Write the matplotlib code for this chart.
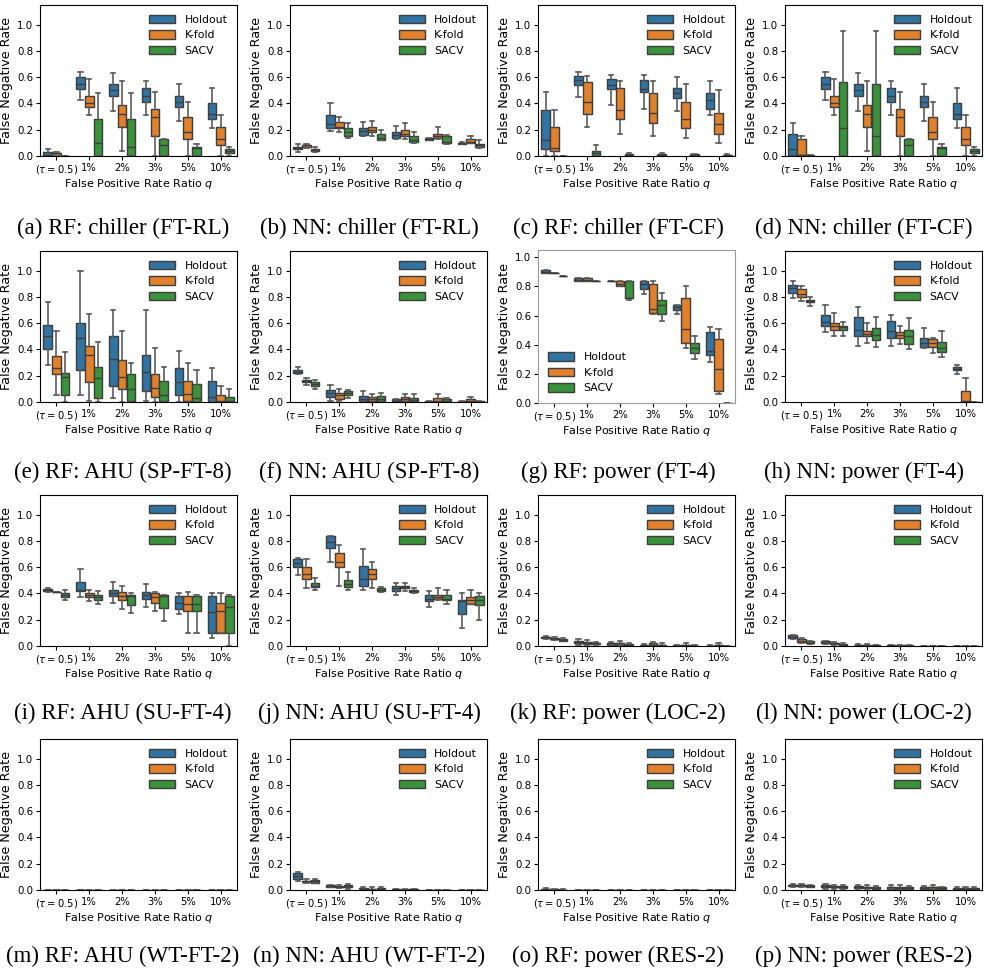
import matplotlib
matplotlib.use("Agg")
import matplotlib.pyplot as plt
from matplotlib.patches import Patch

CATEGORIES = [r"$(\tau = 0.5)$", "1%", "2%", "3%", "5%", "10%"]
METHODS = ["Holdout", "K-fold", "SACV"]
COLORS = ["#3274a1", "#e1812c", "#3a923a"]
Y_TICKS = [0.0, 0.2, 0.4, 0.6, 0.8, 1.0]

# Box statistics per category: (lower whisker, Q1, median, Q3, upper whisker)
# (a) RF: chiller (FT-RL)
A_HOLDOUT = [(0, 0, 0.01, 0.03, 0.05), (0.43, 0.51, 0.55, 0.60, 0.64), (0.34, 0.46, 0.50, 0.55, 0.63),
             (0.31, 0.41, 0.46, 0.52, 0.57), (0.27, 0.37, 0.41, 0.46, 0.55), (0.21, 0.28, 0.32, 0.40, 0.52)]
A_KFOLD = [(0, 0, 0.02, 0.025, 0.03), (0.31, 0.37, 0.40, 0.46, 0.59), (0.04, 0.22, 0.32, 0.39, 0.57),
           (0, 0.15, 0.30, 0.36, 0.49), (0, 0.13, 0.18, 0.30, 0.41), (0, 0.08, 0.13, 0.22, 0.31)]
A_SACV = [(0, 0, 0, 0, 0), (0, 0, 0.10, 0.28, 0.48), (0, 0, 0.07, 0.28, 0.48),
          (0, 0, 0.08, 0.13, 0.13), (0, 0, 0.06, 0.07, 0.09), (0, 0.02, 0.04, 0.055, 0.07)]

# (b) NN: chiller (FT-RL)
B_HOLDOUT = [(0.03, 0.05, 0.06, 0.07, 0.09), (0.19, 0.21, 0.24, 0.31, 0.40), (0.15, 0.16, 0.19, 0.21, 0.26),
             (0.13, 0.14, 0.16, 0.18, 0.23), (0.12, 0.12, 0.13, 0.14, 0.14), (0.09, 0.095, 0.10, 0.10, 0.105)]
B_KFOLD = [(0.06, 0.07, 0.08, 0.085, 0.095), (0.18, 0.21, 0.22, 0.26, 0.30), (0.15, 0.18, 0.20, 0.22, 0.27),
           (0.13, 0.15, 0.17, 0.20, 0.25), (0.13, 0.14, 0.15, 0.17, 0.22), (0.10, 0.10, 0.11, 0.13, 0.15)]
B_SACV = [(0.03, 0.04, 0.045, 0.055, 0.065), (0.14, 0.15, 0.18, 0.21, 0.25), (0.12, 0.12, 0.14, 0.17, 0.20),
          (0.10, 0.11, 0.12, 0.15, 0.18), (0.09, 0.10, 0.11, 0.15, 0.16), (0.06, 0.07, 0.08, 0.09, 0.12)]

# (c) RF: chiller (FT-CF)
C_HOLDOUT = [(0, 0.05, 0.12, 0.35, 0.49), (0.45, 0.54, 0.58, 0.61, 0.64), (0.39, 0.51, 0.54, 0.59, 0.62),
             (0.36, 0.49, 0.51, 0.58, 0.62), (0.34, 0.44, 0.48, 0.52, 0.60), (0.31, 0.36, 0.43, 0.48, 0.57)]
C_KFOLD = [(0, 0.04, 0.06, 0.22, 0.35), (0.22, 0.32, 0.41, 0.56, 0.61), (0.17, 0.28, 0.35, 0.52, 0.57),
           (0.15, 0.25, 0.33, 0.48, 0.57), (0.14, 0.21, 0.28, 0.41, 0.55), (0.10, 0.17, 0.24, 0.33, 0.50)]
C_SACV = [(0, 0, 0, 0, 0), (0, 0, 0.02, 0.035, 0.08), (0, 0, 0.005, 0.015, 0.02),
          (0, 0, 0.005, 0.015, 0.02), (0, 0, 0.005, 0.015, 0.015), (0, 0, 0.005, 0.01, 0.015)]

# (d) NN: chiller (FT-CF)
D_HOLDOUT = [(0, 0.01, 0.05, 0.17, 0.25), (0.43, 0.51, 0.55, 0.60, 0.64), (0.34, 0.46, 0.50, 0.55, 0.63),
             (0.31, 0.41, 0.46, 0.52, 0.57), (0.27, 0.37, 0.41, 0.46, 0.55), (0.21, 0.28, 0.32, 0.40, 0.52)]
D_KFOLD = [(0, 0.005, 0.01, 0.13, 0.15), (0.31, 0.37, 0.40, 0.46, 0.59), (0.04, 0.22, 0.32, 0.39, 0.57),
           (0, 0.15, 0.30, 0.36, 0.49), (0, 0.13, 0.18, 0.30, 0.41), (0, 0.08, 0.13, 0.22, 0.31)]
D_SACV = [(0, 0, 0.005, 0.01, 0.01), (0, 0, 0.21, 0.56, 0.95), (0, 0, 0.15, 0.55, 0.95),
          (0, 0, 0.08, 0.13, 0.13), (0, 0, 0.06, 0.07, 0.09), (0, 0.02, 0.04, 0.055, 0.07)]

# (e) RF: AHU (SP-FT-8)
E_HOLDOUT = [(0.28, 0.40, 0.50, 0.59, 0.76), (0.05, 0.24, 0.49, 0.60, 1.00), (0.03, 0.12, 0.33, 0.50, 0.70),
             (0.01, 0.08, 0.23, 0.36, 0.70), (0, 0.05, 0.15, 0.26, 0.39), (0, 0, 0.04, 0.16, 0.26)]
E_KFOLD = [(0.05, 0.21, 0.26, 0.35, 0.54), (0.01, 0.15, 0.36, 0.43, 0.67), (0, 0.10, 0.19, 0.32, 0.54),
           (0, 0.04, 0.11, 0.21, 0.41), (0, 0.01, 0.06, 0.16, 0.30), (0, 0, 0.01, 0.05, 0.12)]
E_SACV = [(0, 0.05, 0.19, 0.22, 0.38), (0, 0.03, 0.18, 0.27, 0.46), (0, 0.01, 0.10, 0.21, 0.30),
          (0, 0.005, 0.05, 0.16, 0.27), (0, 0, 0.03, 0.14, 0.24), (0, 0, 0.005, 0.04, 0.10)]

# (f) NN: AHU (SP-FT-8)
F_HOLDOUT = [(0.21, 0.22, 0.23, 0.24, 0.27), (0.01, 0.04, 0.07, 0.09, 0.13), (0, 0.005, 0.02, 0.045, 0.08),
             (0, 0.005, 0.01, 0.02, 0.02), (0, 0, 0, 0.005, 0.005), (0, 0, 0, 0.005, 0.005)]
F_KFOLD = [(0.13, 0.15, 0.16, 0.17, 0.18), (0.01, 0.02, 0.05, 0.07, 0.10), (0, 0.005, 0.02, 0.035, 0.06),
           (0, 0.005, 0.02, 0.035, 0.06), (0, 0, 0.01, 0.03, 0.06), (0, 0, 0.005, 0.02, 0.035)]
F_SACV = [(0.10, 0.12, 0.14, 0.15, 0.17), (0.03, 0.05, 0.07, 0.08, 0.09), (0, 0.005, 0.025, 0.045, 0.07),
          (0, 0.005, 0.015, 0.03, 0.06), (0, 0, 0.005, 0.02, 0.03), (0, 0, 0, 0.005, 0.005)]

# (g) RF: power (FT-4)
G_HOLDOUT = [(0.89, 0.895, 0.90, 0.91, 0.91), (0.835, 0.835, 0.845, 0.855, 0.855), (0.835, 0.835, 0.835, 0.835, 0.835),
             (0.75, 0.78, 0.82, 0.835, 0.835), (0.61, 0.64, 0.66, 0.67, 0.67), (0.28, 0.33, 0.36, 0.49, 0.52)]
G_KFOLD = [(0.89, 0.89, 0.89, 0.89, 0.89), (0.835, 0.835, 0.845, 0.855, 0.855), (0.80, 0.80, 0.82, 0.835, 0.835),
           (0.61, 0.62, 0.645, 0.82, 0.835), (0.38, 0.41, 0.51, 0.72, 0.80), (0.065, 0.08, 0.23, 0.44, 0.51)]
G_SACV = [(0.87, 0.87, 0.87, 0.87, 0.87), (0.835, 0.835, 0.835, 0.835, 0.835), (0.71, 0.72, 0.72, 0.835, 0.835),
          (0.56, 0.61, 0.67, 0.705, 0.755), (0.30, 0.34, 0.38, 0.41, 0.46), (0, 0, 0, 0, 0)]

# (h) NN: power (FT-4)
H_HOLDOUT = [(0.79, 0.83, 0.87, 0.89, 0.92), (0.53, 0.58, 0.61, 0.66, 0.74), (0.43, 0.50, 0.55, 0.65, 0.72),
             (0.43, 0.49, 0.54, 0.62, 0.66), (0.41, 0.42, 0.45, 0.49, 0.56), (0.21, 0.24, 0.25, 0.27, 0.28)]
H_KFOLD = [(0.77, 0.80, 0.82, 0.86, 0.88), (0.50, 0.55, 0.58, 0.60, 0.68), (0.45, 0.50, 0.52, 0.54, 0.60),
           (0.44, 0.49, 0.51, 0.53, 0.58), (0.37, 0.42, 0.45, 0.48, 0.49), (0, 0, 0.005, 0.08, 0.18)]
H_SACV = [(0.73, 0.76, 0.77, 0.78, 0.80), (0.50, 0.55, 0.57, 0.58, 0.61), (0.42, 0.47, 0.51, 0.56, 0.65),
          (0.40, 0.44, 0.50, 0.55, 0.64), (0.34, 0.38, 0.41, 0.46, 0.54), (0, 0, 0, 0, 0)]

# (i) RF: AHU (SU-FT-4)
I_HOLDOUT = [(0.41, 0.42, 0.43, 0.435, 0.44), (0.37, 0.42, 0.43, 0.49, 0.59), (0.33, 0.38, 0.40, 0.43, 0.49),
             (0.30, 0.36, 0.39, 0.41, 0.47), (0.24, 0.28, 0.33, 0.38, 0.40), (0.06, 0.10, 0.26, 0.38, 0.40)]
I_KFOLD = [(0.41, 0.41, 0.41, 0.415, 0.415), (0.34, 0.37, 0.39, 0.40, 0.43), (0.28, 0.35, 0.38, 0.41, 0.46),
           (0.27, 0.33, 0.37, 0.40, 0.41), (0.10, 0.27, 0.32, 0.38, 0.41), (0.10, 0.10, 0.27, 0.33, 0.40)]
I_SACV = [(0.35, 0.37, 0.385, 0.40, 0.43), (0.32, 0.35, 0.37, 0.39, 0.42), (0.25, 0.31, 0.38, 0.39, 0.40),
          (0.19, 0.29, 0.38, 0.385, 0.39), (0.10, 0.27, 0.32, 0.38, 0.39), (0, 0.10, 0.30, 0.38, 0.39)]

# (j) NN: AHU (SU-FT-4)
J_HOLDOUT = [(0.54, 0.60, 0.63, 0.66, 0.67), (0.64, 0.75, 0.79, 0.84, 0.84), (0.43, 0.46, 0.51, 0.61, 0.74),
             (0.39, 0.42, 0.44, 0.46, 0.48), (0.30, 0.34, 0.36, 0.39, 0.42), (0.14, 0.24, 0.34, 0.35, 0.40)]
J_KFOLD = [(0.44, 0.51, 0.55, 0.60, 0.66), (0.46, 0.60, 0.64, 0.71, 0.77), (0.44, 0.51, 0.55, 0.59, 0.64),
           (0.42, 0.44, 0.45, 0.46, 0.48), (0.35, 0.36, 0.37, 0.39, 0.44), (0.32, 0.32, 0.35, 0.37, 0.43)]
J_SACV = [(0.43, 0.45, 0.46, 0.48, 0.52), (0.43, 0.45, 0.47, 0.50, 0.56), (0.41, 0.42, 0.43, 0.44, 0.45),
          (0.40, 0.41, 0.42, 0.43, 0.44), (0.32, 0.35, 0.36, 0.39, 0.43), (0.20, 0.31, 0.35, 0.38, 0.40)]

# (k) RF: power (LOC-2)
K_HOLDOUT = [(0.055, 0.06, 0.065, 0.07, 0.075), (0.01, 0.02, 0.03, 0.04, 0.05), (0.005, 0.01, 0.02, 0.025, 0.03),
             (0, 0.005, 0.01, 0.01, 0.015), (0, 0, 0, 0.005, 0.005), (0, 0, 0, 0, 0.005)]
K_KFOLD = [(0.045, 0.05, 0.055, 0.06, 0.065), (0.01, 0.015, 0.025, 0.03, 0.045), (0.005, 0.01, 0.02, 0.025, 0.035),
           (0, 0.005, 0.01, 0.02, 0.03), (0, 0, 0.005, 0.01, 0.02), (0, 0, 0.005, 0.01, 0.02)]
K_SACV = [(0.035, 0.04, 0.045, 0.05, 0.06), (0.01, 0.015, 0.02, 0.025, 0.03), (0, 0.005, 0.01, 0.015, 0.025),
          (0, 0.005, 0.005, 0.01, 0.02), (0, 0, 0, 0, 0.005), (0, 0, 0, 0, 0)]

# (l) NN: power (LOC-2)
L_HOLDOUT = [(0.05, 0.06, 0.07, 0.08, 0.085), (0.015, 0.02, 0.03, 0.035, 0.04), (0, 0.005, 0.008, 0.01, 0.015),
             (0, 0, 0.004, 0.005, 0.008), (0, 0, 0, 0, 0.003), (0, 0, 0, 0, 0)]
L_KFOLD = [(0.02, 0.03, 0.04, 0.05, 0.06), (0.01, 0.015, 0.02, 0.025, 0.03), (0, 0.003, 0.005, 0.008, 0.012),
           (0, 0, 0.003, 0.005, 0.008), (0, 0, 0, 0, 0.003), (0, 0, 0, 0, 0)]
L_SACV = [(0.015, 0.02, 0.025, 0.035, 0.04), (0, 0.005, 0.01, 0.015, 0.02), (0, 0.002, 0.004, 0.006, 0.01),
          (0, 0, 0.002, 0.004, 0.006), (0, 0, 0, 0, 0.002), (0, 0, 0, 0, 0)]

# (m) RF: AHU (WT-FT-2)
M_HOLDOUT = [(0, 0, 0, 0, 0)] * 6
M_KFOLD = [(0, 0, 0, 0, 0)] * 6
M_SACV = [(0, 0, 0, 0, 0)] * 6

# (n) NN: AHU (WT-FT-2)
N_HOLDOUT = [(0.07, 0.08, 0.11, 0.13, 0.14), (0.02, 0.025, 0.03, 0.035, 0.04), (0, 0.005, 0.01, 0.015, 0.025),
             (0, 0, 0.005, 0.005, 0.01), (0, 0, 0, 0, 0), (0, 0, 0, 0, 0)]
N_KFOLD = [(0.055, 0.06, 0.065, 0.07, 0.08), (0.015, 0.02, 0.025, 0.03, 0.04), (0, 0.005, 0.005, 0.01, 0.02),
           (0, 0, 0, 0.005, 0.005), (0, 0, 0, 0, 0), (0, 0, 0, 0, 0)]
N_SACV = [(0.05, 0.055, 0.065, 0.075, 0.085), (0.01, 0.02, 0.03, 0.035, 0.045), (0, 0.005, 0.01, 0.015, 0.02),
          (0, 0, 0.005, 0.005, 0.01), (0, 0, 0, 0, 0), (0, 0, 0, 0, 0)]

# (o) RF: power (RES-2)
O_HOLDOUT = [(0, 0.003, 0.005, 0.008, 0.012), (0, 0, 0, 0, 0), (0, 0, 0, 0, 0),
             (0, 0, 0, 0, 0), (0, 0, 0, 0, 0), (0, 0, 0, 0, 0)]
O_KFOLD = [(0, 0, 0.002, 0.005, 0.006), (0, 0, 0, 0, 0), (0, 0, 0, 0, 0),
           (0, 0, 0, 0, 0), (0, 0, 0, 0, 0), (0, 0, 0, 0, 0)]
O_SACV = [(0, 0, 0, 0.003, 0.004), (0, 0, 0, 0, 0), (0, 0, 0, 0, 0),
          (0, 0, 0, 0, 0), (0, 0, 0, 0, 0), (0, 0, 0, 0, 0)]

# (p) NN: power (RES-2)
P_HOLDOUT = [(0.025, 0.03, 0.035, 0.04, 0.045), (0.01, 0.02, 0.03, 0.035, 0.045), (0.01, 0.015, 0.02, 0.03, 0.04),
             (0.005, 0.01, 0.02, 0.025, 0.035), (0.005, 0.01, 0.015, 0.02, 0.03), (0, 0.005, 0.01, 0.015, 0.02)]
P_KFOLD = [(0.025, 0.03, 0.035, 0.04, 0.045), (0.01, 0.02, 0.025, 0.03, 0.04), (0.005, 0.015, 0.02, 0.025, 0.035),
           (0.005, 0.01, 0.015, 0.025, 0.035), (0.005, 0.01, 0.02, 0.025, 0.035), (0, 0.005, 0.01, 0.015, 0.02)]
P_SACV = [(0.02, 0.025, 0.03, 0.035, 0.04), (0.01, 0.015, 0.02, 0.03, 0.035), (0.005, 0.01, 0.015, 0.025, 0.03),
          (0.005, 0.01, 0.015, 0.02, 0.03), (0.005, 0.01, 0.015, 0.02, 0.025), (0, 0.005, 0.01, 0.015, 0.02)]

PANELS = [
    ("(a) RF: chiller (FT-RL)", (A_HOLDOUT, A_KFOLD, A_SACV)),
    ("(b) NN: chiller (FT-RL)", (B_HOLDOUT, B_KFOLD, B_SACV)),
    ("(c) RF: chiller (FT-CF)", (C_HOLDOUT, C_KFOLD, C_SACV)),
    ("(d) NN: chiller (FT-CF)", (D_HOLDOUT, D_KFOLD, D_SACV)),
    ("(e) RF: AHU (SP-FT-8)", (E_HOLDOUT, E_KFOLD, E_SACV)),
    ("(f) NN: AHU (SP-FT-8)", (F_HOLDOUT, F_KFOLD, F_SACV)),
    ("(g) RF: power (FT-4)", (G_HOLDOUT, G_KFOLD, G_SACV)),
    ("(h) NN: power (FT-4)", (H_HOLDOUT, H_KFOLD, H_SACV)),
    ("(i) RF: AHU (SU-FT-4)", (I_HOLDOUT, I_KFOLD, I_SACV)),
    ("(j) NN: AHU (SU-FT-4)", (J_HOLDOUT, J_KFOLD, J_SACV)),
    ("(k) RF: power (LOC-2)", (K_HOLDOUT, K_KFOLD, K_SACV)),
    ("(l) NN: power (LOC-2)", (L_HOLDOUT, L_KFOLD, L_SACV)),
    ("(m) RF: AHU (WT-FT-2)", (M_HOLDOUT, M_KFOLD, M_SACV)),
    ("(n) NN: AHU (WT-FT-2)", (N_HOLDOUT, N_KFOLD, N_SACV)),
    ("(o) RF: power (RES-2)", (O_HOLDOUT, O_KFOLD, O_SACV)),
    ("(p) NN: power (RES-2)", (P_HOLDOUT, P_KFOLD, P_SACV)),
]

W, H = 986, 973
EDGE = "#3d3d3d"
WHISKER = "#5c5c5c"
COL_LEFT = [40, 290, 538, 785]
AX_W = 197
ROW_TOP = [5, 251, 495, 739]
AX_H = 151
CAPTION_X = [123, 369, 618, 864]
CAPTION_Y = [228, 472, 713, 956]

plt.rcParams["font.family"] = "DejaVu Sans"
fig = plt.figure(figsize=(W / 100, H / 100), dpi=100)


def draw_panel(ax, series, special=False):
    group = 0.8 / len(METHODS)
    for m, (stats_list, color) in enumerate(zip(series, COLORS)):
        stats = [dict(whislo=s[0], q1=s[1], med=s[2], q3=s[3], whishi=s[4]) for s in stats_list]
        positions = [i + (m - 1) * group for i in range(len(CATEGORIES))]
        ax.bxp(stats, positions=positions, widths=group * 0.98, patch_artist=True,
               showfliers=False, manage_ticks=False,
               boxprops=dict(facecolor=color, edgecolor=EDGE, linewidth=1.0),
               medianprops=dict(color=EDGE, linewidth=1.0),
               whiskerprops=dict(color=WHISKER, linewidth=1.2),
               capprops=dict(color=WHISKER, linewidth=1.2))
    ax.set_xlim(-0.5, len(CATEGORIES) - 0.5)
    ax.set_xticks(range(len(CATEGORIES)))
    ax.set_xticklabels(CATEGORIES, fontsize=7.2)
    ax.set_yticks(Y_TICKS)
    ax.set_yticklabels([f"{v:.1f}" for v in Y_TICKS], fontsize=7.4)
    ax.tick_params(length=3, width=0.8, pad=2)
    ax.set_xlabel("False Positive Rate Ratio $q$", fontsize=8, labelpad=1)
    ax.set_ylabel("False Negative Rate", fontsize=9.2, labelpad=3)
    handles = [Patch(facecolor=c, edgecolor=EDGE, linewidth=1.0) for c in COLORS]
    if special:
        ax.set_ylim(0, 1.05)
        for sp in ax.spines.values():
            sp.set_color("#9a9a9a")
        loc = "lower left"
    else:
        ax.set_ylim(0, 1.15)
        loc = "upper right"
    ax.legend(handles, METHODS, loc=loc, frameon=False, fontsize=7.8,
              handlelength=2.4, handleheight=0.85, handletextpad=0.9)


for idx, (caption, series) in enumerate(PANELS):
    r, c = divmod(idx, 4)
    special = idx == 6
    top = ROW_TOP[r] - (1 if special else 0)
    height = AX_H + (2 if special else 0)
    ax = fig.add_axes([COL_LEFT[c] / W, 1 - (top + height) / H, AX_W / W, height / H])
    draw_panel(ax, series, special)
    fig.text(CAPTION_X[c] / W, 1 - CAPTION_Y[r] / H, caption, ha="center", va="center",
             fontsize=16.5, family="Liberation Serif")

fig.savefig("out.png", dpi=100)
